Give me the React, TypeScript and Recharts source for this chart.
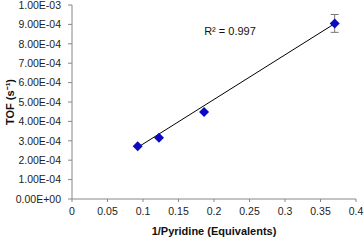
import {
  ScatterChart,
  Scatter,
  XAxis,
  YAxis,
  ErrorBar,
  ReferenceDot,
} from "recharts";

const pyridineInv = [0.0925, 0.1225, 0.186, 0.37];
const tofValues = [2.72e-4, 3.16e-4, 4.48e-4, 9.05e-4];
const tofErrors = [0, 0, 0, 0.46e-4];

const trendX = [0.0925, 0.37];
const trendY = [2.66e-4, 9.04e-4];

const xTicks = [0, 0.05, 0.1, 0.15, 0.2, 0.25, 0.3, 0.35, 0.4];
const yTicks = [0, 1e-4, 2e-4, 3e-4, 4e-4, 5e-4, 6e-4, 7e-4, 8e-4, 9e-4, 1e-3];
const yTickLabels = [
  "0.00E+00",
  "1.00E-04",
  "2.00E-04",
  "3.00E-04",
  "4.00E-04",
  "5.00E-04",
  "6.00E-04",
  "7.00E-04",
  "8.00E-04",
  "9.00E-04",
  "1.00E-03",
];

const points = pyridineInv.map((x, i) => ({ x, y: tofValues[i], err: tofErrors[i] }));
const trend = trendX.map((x, i) => ({ x, y: trendY[i] }));

const font = "'Liberation Sans', Arial, sans-serif";
const tickStyle = { fontSize: 10.5, fill: "#222", fontFamily: font };

// square-ish diamond like Excel's marker
const Diamond = (props: any) => {
  const { cx, cy } = props;
  if (cx == null || cy == null) return null;
  const r = 5;
  return (
    <polygon
      points={`${cx},${cy - r} ${cx + r},${cy} ${cx},${cy + r} ${cx - r},${cy}`}
      fill="#0a0ac0"
    />
  );
};

export default function App() {
  return (
    <div style={{ position: "absolute", left: 0, top: 0, background: "#fff" }}>
      <ScatterChart width={364} height={241} margin={{ top: 5, right: 8, left: 0, bottom: 0 }}>
        {/* plot border (top/right) */}
        <XAxis
          xAxisId="top"
          orientation="top"
          dataKey="x"
          type="number"
          domain={[0, 0.4]}
          ticks={[]}
          height={0}
          stroke="#888"
          tick={false}
        />
        <YAxis
          yAxisId="right"
          orientation="right"
          dataKey="y"
          type="number"
          domain={[0, 1e-3]}
          width={0}
          stroke="#888"
          tick={false}
          ticks={[]}
        />
        <XAxis
          dataKey="x"
          type="number"
          domain={[0, 0.4]}
          ticks={xTicks}
          interval={0}
          height={42}
          stroke="#888"
          tickSize={3}
          tick={tickStyle}
          tickMargin={6}
          label={{
            value: "1/Pyridine (Equivalents)",
            position: "insideBottom",
            offset: 6,
            style: { fontSize: 11, fontWeight: "bold", fill: "#111", fontFamily: font },
          }}
        />
        <YAxis
          dataKey="y"
          type="number"
          domain={[0, 1e-3]}
          ticks={yTicks}
          interval={0}
          width={72}
          stroke="#888"
          tickSize={4}
          tickMargin={7}
          tick={tickStyle}
          tickFormatter={(v: number) => yTickLabels[yTicks.indexOf(v)] ?? ""}
          label={{
            value: "TOF (s⁻¹)",
            angle: -90,
            position: "insideLeft",
            offset: 10,
            style: { fontSize: 11, fontWeight: "bold", fill: "#111", fontFamily: font, textAnchor: "middle" },
          }}
        />
        <Scatter
          data={trend}
          line={{ stroke: "#000", strokeWidth: 1 }}
          shape={() => null}
          isAnimationActive={false}
        />
        <Scatter data={points} fill="#0a0ac0" shape={Diamond} isAnimationActive={false}>
          <ErrorBar dataKey="err" direction="y" stroke="#777" width={4} strokeWidth={1} />
        </Scatter>
        <ReferenceDot
          x={0.2225}
          y={8.66e-4}
          r={0}
          stroke="none"
          fill="none"
          label={{
            value: "R² = 0.997",
            position: "center",
            style: { fontSize: 11, fill: "#111", fontFamily: font },
          }}
        />
      </ScatterChart>
    </div>
  );
}
